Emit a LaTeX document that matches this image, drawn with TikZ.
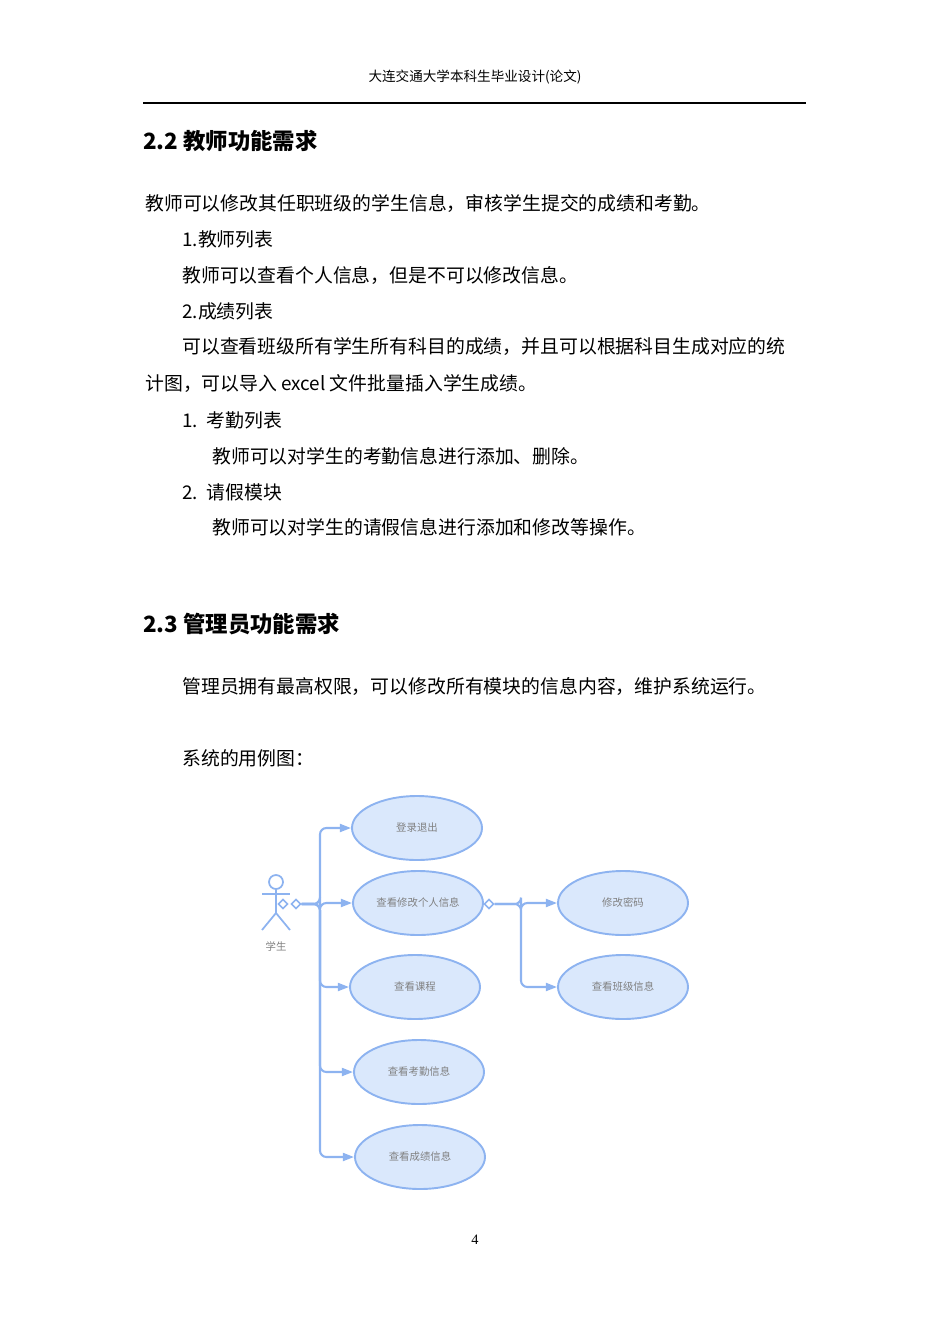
\documentclass[tikz,border=0pt]{standalone}
\usepackage{fontspec}
\setmainfont{Liberation Serif}
\newfontfamily\cjk{Noto Sans CJK SC}
\usetikzlibrary{arrows.meta,shapes.geometric}
\definecolor{ucline}{HTML}{8DB3F0}
\definecolor{ucfill}{HTML}{DAE8FC}
\definecolor{uctext}{HTML}{808080}
\tikzset{
  body/.style={anchor=west,inner sep=0pt,font=\cjk\fontsize{11.8}{14}\selectfont},
  head/.style={anchor=west,inner sep=0pt,font=\cjk\bfseries\fontsize{14}{16}\selectfont},
  usecase/.style={ellipse,draw=ucline,fill=ucfill,line width=1.2pt,minimum width=130*0.626pt,minimum height=64*0.626pt,inner sep=0pt,text=uctext,font=\cjk\fontsize{6.5}{8}\selectfont},
  link/.style={draw=ucline,line width=1.3pt,rounded corners=4pt,-{Triangle[length=7pt,width=5pt]}},
  knob/.style={diamond,draw=ucline,fill=white,line width=1pt,inner sep=1.5pt}
}
\begin{document}
\begin{tikzpicture}[x=0.626pt,y=-0.626pt]
  \useasboundingbox (0,0) rectangle (950,1344);
  % Seitenkopf
  \node[font=\cjk\fontsize{8.5}{10}\selectfont] (hdr) at (475,77) {大连交通大学本科生毕业设计(论文)};
  \draw[line width=1pt] (143,103) -- (806,103);
  % Text
  \node[head] (h22) at (143,141) {2.2 教师功能需求};
  \node[body] (t1) at (145,203) {教师可以修改其任职班级的学生信息，审核学生提交的成绩和考勤。};
  \node[body] (t2) at (182,239) {1.教师列表};
  \node[body] (t3) at (182,275) {教师可以查看个人信息，但是不可以修改信息。};
  \node[body] (t4) at (182,311) {2.成绩列表};
  \node[body] (t5) at (182,347) {可以查看班级所有学生所有科目的成绩，并且可以根据科目生成对应的统};
  \node[body] (t6) at (145,384) {计图，可以导入 excel 文件批量插入学生成绩。};
  \node[body] (t7) at (182,420) {1.\ \ 考勤列表};
  \node[body] (t8) at (212,456) {教师可以对学生的考勤信息进行添加、删除。};
  \node[body] (t9) at (182,492) {2.\ \ 请假模块};
  \node[body] (t10) at (212,527) {教师可以对学生的请假信息进行添加和修改等操作。};
  \node[head] (h23) at (143,624) {2.3 管理员功能需求};
  \node[body] (t11) at (182,686) {管理员拥有最高权限，可以修改所有模块的信息内容，维护系统运行。};
  \node[body] (t12) at (182,758) {系统的用例图：};
  \node[font=\fontsize{9}{10}\selectfont] (pg) at (475,1240) {4};
  % Akteur
  \begin{scope}[draw=ucline,line width=1.1pt]
    \draw (276,882) circle (7);
    \draw (276,889) -- (276,913);
    \draw (262,894) -- (290,894);
    \draw (262,930) -- (276,913) -- (290,930);
  \end{scope}
  \node[text=uctext,font=\cjk\fontsize{6.5}{8}\selectfont] (st) at (276,946) {学生};
  % Anwendungsfaelle
  \node[usecase] (login) at (417,828) {登录退出};
  \node[usecase] (info) at (418,903) {查看修改个人信息};
  \node[usecase] (course) at (415,987) {查看课程};
  \node[usecase] (attend) at (419,1072) {查看考勤信息};
  \node[usecase] (grade) at (420,1157) {查看成绩信息};
  \node[usecase] (pwd) at (623,903) {修改密码};
  \node[usecase] (cls) at (623,987) {查看班级信息};
  % Verbindungen
  \node[knob] (k1) at (283,904) {};
  \node[knob] (k2) at (296,904) {};
  \node[knob] (k3) at (489,904) {};
  \coordinate (trunk) at (320,904);
  \coordinate (fork) at (521,904);
  \foreach \uc in {login,info,course,attend,grade}
    \draw[link] (k2) -- (trunk) |- (\uc);
  \foreach \uc in {pwd,cls}
    \draw[link] (k3) -- (fork) |- (\uc);
\end{tikzpicture}
\end{document}
